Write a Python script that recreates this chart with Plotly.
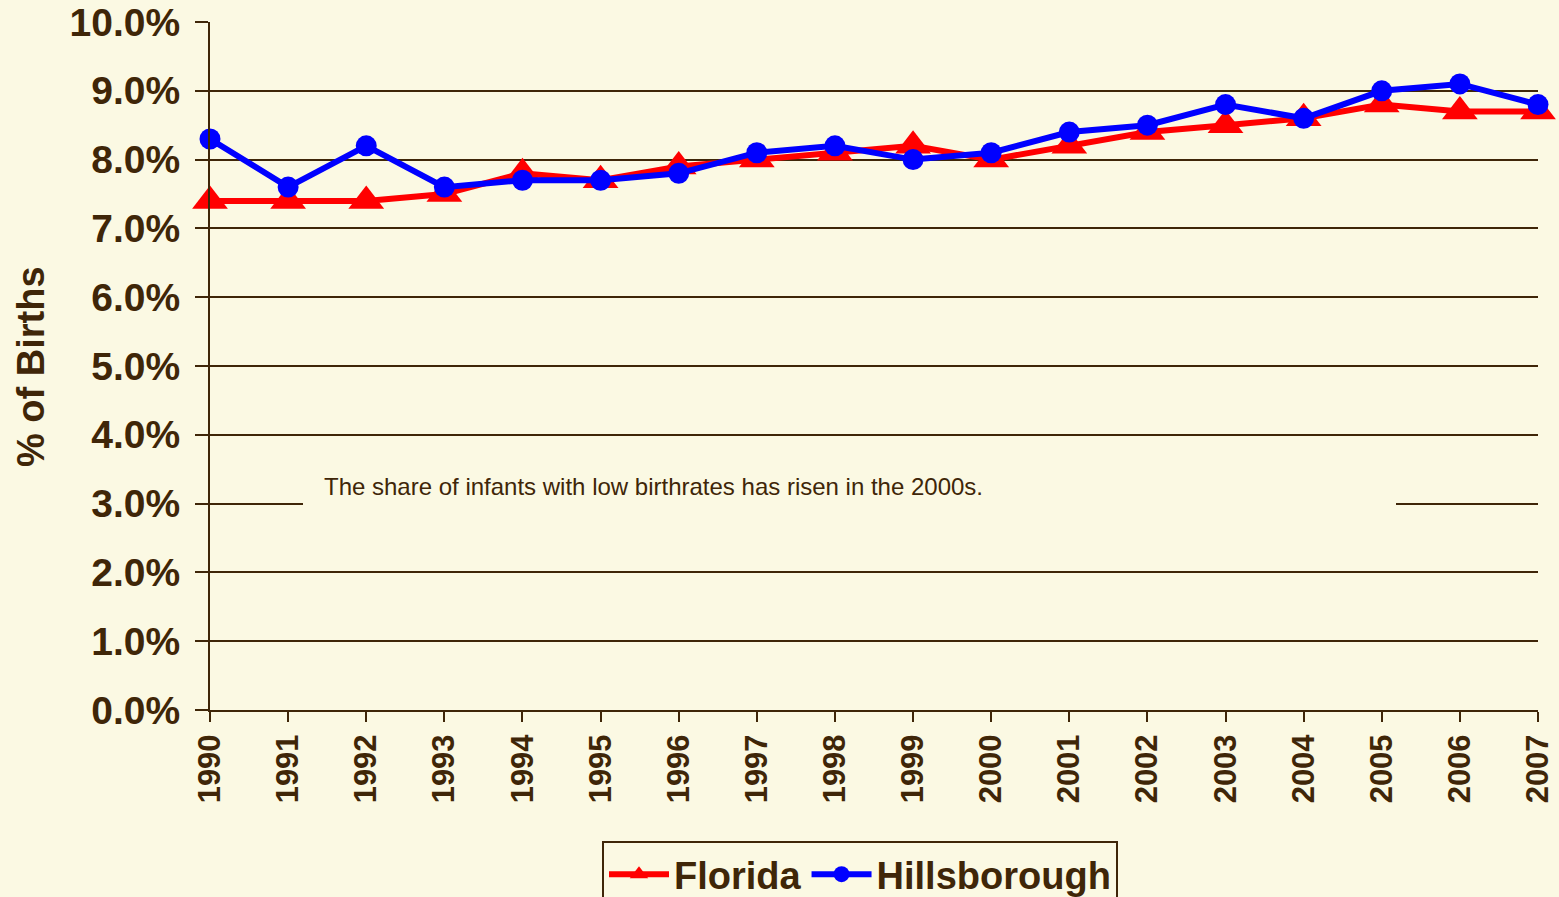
import plotly.graph_objects as go

years = [1990, 1991, 1992, 1993, 1994, 1995, 1996, 1997, 1998, 1999,
         2000, 2001, 2002, 2003, 2004, 2005, 2006, 2007]
florida = [7.4, 7.4, 7.4, 7.5, 7.8, 7.7, 7.9, 8.0, 8.1, 8.2,
           8.0, 8.2, 8.4, 8.5, 8.6, 8.8, 8.7, 8.7]
hillsborough = [8.3, 7.6, 8.2, 7.6, 7.7, 7.7, 7.8, 8.1, 8.2, 8.0,
                8.1, 8.4, 8.5, 8.8, 8.6, 9.0, 9.1, 8.8]
y_ticks = [0, 1, 2, 3, 4, 5, 6, 7, 8, 9, 10]
y_tick_labels = [f"{v:.1f}%" for v in y_ticks]
note = "The share of infants with low birthrates has risen in the 2000s."

BG = "#FBF9E3"
INK = "#3F2608"
FONT = "Liberation Sans, Arial, sans-serif"

W, H = 1559, 897
L, R, T, B = 210, 21, 22, 187

fig = go.Figure()
fig.add_trace(go.Scatter(
    x=years, y=florida, name="Florida", mode="lines+markers",
    line=dict(color="#FF0000", width=6),
    marker=dict(symbol="triangle-up", size=31, color="#FF0000"),
    cliponaxis=False,
))
fig.add_trace(go.Scatter(
    x=years, y=hillsborough, name="Hillsborough", mode="lines+markers",
    line=dict(color="#0000FF", width=6),
    marker=dict(symbol="circle", size=21, color="#0000FF"),
    cliponaxis=False,
))

px_per_year = (W - L - R) / (years[-1] - years[0])
px_per_unit = (H - T - B) / 10.0
def xd(px):
    return years[0] + (px - L) / px_per_year
def yd(py):
    return (H - B - py) / px_per_unit

# background box behind note (covers gridline)
fig.add_shape(type="rect", xref="x", yref="y",
              x0=xd(303), x1=xd(1396), y0=yd(516), y1=yd(468),
              fillcolor=BG, line=dict(width=0), layer="above")
fig.add_annotation(xref="x", yref="y", x=xd(322), y=yd(486),
                   xanchor="left", yanchor="middle", showarrow=False,
                   text=note, font=dict(family=FONT, size=24, color=INK))

# y title
fig.add_annotation(xref="paper", yref="paper",
                   x=(31 - L) / (W - L - R), y=(H - B - 367) / (H - T - B),
                   xanchor="center", yanchor="middle", showarrow=False,
                   textangle=-90, text="<b>% of Births</b>",
                   font=dict(family=FONT, size=38, color=INK))

fig.update_layout(
    width=W, height=H,
    paper_bgcolor=BG, plot_bgcolor=BG,
    margin=dict(l=L, r=R, t=T, b=B, autoexpand=False),
    font=dict(family=FONT, color=INK),
    showlegend=True,
    legend=dict(orientation="h", x=(860 - L) / (W - L - R), xanchor="center",
                yref="container", y=(H - 841) / H, yanchor="top",
                bgcolor=BG, bordercolor=INK, borderwidth=2,
                font=dict(family=FONT, size=38, color=INK, weight="bold"),
                itemwidth=60, tracegroupgap=0),
    xaxis=dict(range=[years[0], years[-1]], tickmode="array", tickvals=years,
               ticktext=[str(y) for y in years], tickangle=-90,
               tickfont=dict(family=FONT, size=31, color=INK, weight="bold"),
               ticks="outside", ticklen=10, tickwidth=2, tickcolor=INK,
               showgrid=False, showline=True, linecolor=INK, linewidth=2,
               zeroline=False, fixedrange=True),
    yaxis=dict(range=[0, 10], tickmode="array", tickvals=y_ticks,
               ticktext=y_tick_labels,
               tickfont=dict(family=FONT, size=39, color=INK, weight="bold"),
               ticks="outside", ticklen=13, tickwidth=2, tickcolor=INK,
               showgrid=True, gridcolor=INK, gridwidth=2,
               showline=True, linecolor=INK, linewidth=2,
               zeroline=False, ticklabelstandoff=7, fixedrange=True),
)

fig.write_html(
    "out.html",
    config={"displayModeBar": False},
    post_script="document.body.style.margin='0';document.body.style.overflow='hidden';document.body.style.background='%s';" % BG,
)
